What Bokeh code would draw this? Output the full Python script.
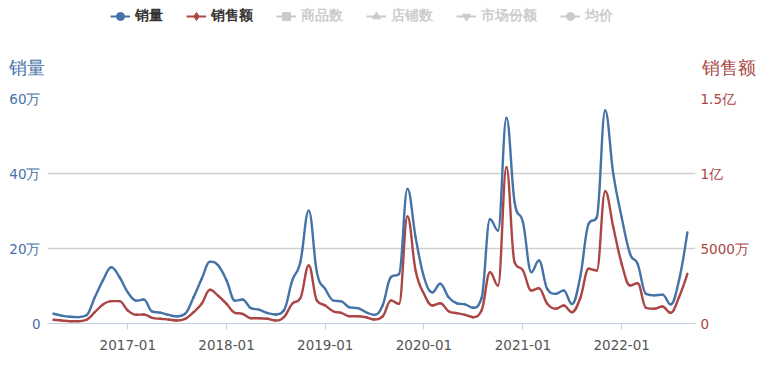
import pandas as pd
from bokeh.plotting import figure
from bokeh.layouts import column
from bokeh.models import (Range1d, LinearAxis, FixedTicker, DatetimeTickFormatter,
                          Legend, LegendItem, ColumnDataSource)
from bokeh.embed import file_html
from bokeh.resources import INLINE

# ---------------- data ----------------
start_month = "2016-04"
# 销量 (unit: 万)
sales_volume_wan = [2.6, 2.1, 1.8, 1.7, 2.2, 7.0, 11.5, 15.0, 12.4, 8.3, 6.1, 6.4,
                    3.2, 2.9, 2.3, 1.9, 2.6, 7.0, 11.9, 16.5, 15.5, 11.5, 6.1, 6.4,
                    4.1, 3.7, 2.8, 2.4, 3.5, 11.5, 16.4, 30.1, 13.7, 9.2, 6.1, 5.9,
                    4.3, 4.1, 3.0, 2.3, 4.8, 12.4, 13.2, 35.9, 23.0, 12.4, 8.3, 10.6,
                    7.0, 5.4, 5.1, 4.2, 6.8, 27.8, 24.8, 54.8, 32.4, 27.0, 13.7, 16.8,
                    9.2, 7.9, 8.8, 5.2, 12.5, 26.6, 28.3, 56.8, 39.9, 28.3, 18.6, 15.9,
                    7.9, 7.5, 7.7, 5.1, 11.5, 24.3]
# 销售额 (unit: 万元)
sales_amount_wan = [250, 200, 155, 155, 245, 755, 1270, 1490, 1490, 870, 580, 600,
                    380, 313, 267, 200, 313, 755, 1313, 2247, 1850, 1313, 713, 647,
                    353, 353, 313, 200, 420, 1313, 1687, 3867, 1533, 1200, 800, 713,
                    487, 487, 420, 267, 467, 1533, 1313, 7133, 3533, 1980, 1200, 1353,
                    820, 687, 580, 420, 867, 3420, 2533, 10420, 4087, 3533, 2200, 2353,
                    1313, 980, 1200, 753, 1700, 3647, 3533, 8820, 6420, 3980, 2533, 2687,
                    1047, 980, 1133, 713, 1753, 3313]

left_ticks = [0, 20, 40, 60]
left_tick_labels = ["0", "20万", "40万", "60万"]
right_ticks = [0, 5000, 10000, 15000]
right_tick_labels = ["0", "5000万", "1亿", "1.5亿"]
x_tick_dates = ["2017-01-01", "2018-01-01", "2019-01-01", "2020-01-01", "2021-01-01", "2022-01-01"]

legend_names = ["销量", "销售额", "商品数", "店铺数", "市场份额", "均价"]
legend_markers = ["circle", "diamond", "square", "triangle", "inverted_triangle", "circle"]
legend_active = [True, True, False, False, False, False]
left_title = "销量"
right_title = "销售额"

BLUE = "#4572A7"
RED = "#AA4643"
FONT = "DejaVu Sans"

W = 760
BL, BR = 47, 65          # left / right borders (frame spans 47..695)
HH = 88                  # header height
MT, FH, MB = 10, 225, 43  # main: top border, frame height, bottom border


def ms(d):
    return (pd.Timestamp(d) - pd.Timestamp("1970-01-01")) // pd.Timedelta("1ms")


dates = pd.date_range(start_month, periods=len(sales_volume_wan), freq="MS")
xs = [float(ms(d)) for d in dates]


def spline_segments(xv, yv, smoothing=1.5):
    """Highcharts-like spline control points -> bezier segments."""
    n = len(xv)
    lc = [None] * n
    rc = [None] * n
    for i in range(n):
        x, y = xv[i], yv[i]
        if i == 0 or i == n - 1:
            lc[i] = (x, y)
            rc[i] = (x, y)
            continue
        lx, ly = xv[i - 1], yv[i - 1]
        nx, ny = xv[i + 1], yv[i + 1]
        d = smoothing + 1
        lcx = (smoothing * x + lx) / d
        lcy = (smoothing * y + ly) / d
        rcx = (smoothing * x + nx) / d
        rcy = (smoothing * y + ny) / d
        corr = 0.0
        if rcx != lcx:
            corr = ((rcy - lcy) * (rcx - x)) / (rcx - lcx) + y - rcy
        lcy += corr
        rcy += corr
        if lcy > ly and lcy > y:
            lcy = max(ly, y)
            rcy = 2 * y - lcy
        elif lcy < ly and lcy < y:
            lcy = min(ly, y)
            rcy = 2 * y - lcy
        if rcy > ny and rcy > y:
            rcy = max(ny, y)
            lcy = 2 * y - rcy
        elif rcy < ny and rcy < y:
            rcy = min(ny, y)
            lcy = 2 * y - rcy
        lc[i] = (lcx, lcy)
        rc[i] = (rcx, rcy)
    data = dict(x0=[], y0=[], x1=[], y1=[], cx0=[], cy0=[], cx1=[], cy1=[])
    for i in range(1, n):
        data["x0"].append(xv[i - 1]); data["y0"].append(yv[i - 1])
        data["x1"].append(xv[i]); data["y1"].append(yv[i])
        data["cx0"].append(rc[i - 1][0]); data["cy0"].append(rc[i - 1][1])
        data["cx1"].append(lc[i][0]); data["cy1"].append(lc[i][1])
    return ColumnDataSource(data)


def plain_axis(ax, ticks, labels, color, size, standoff):
    ax.ticker = FixedTicker(ticks=ticks)
    ax.major_label_overrides = dict(zip(ticks, labels))
    ax.axis_line_color = None
    ax.major_tick_line_color = None
    ax.major_tick_out = 0
    ax.major_tick_in = 0
    ax.minor_tick_line_color = None
    ax.minor_tick_out = 0
    ax.major_label_text_color = color
    ax.major_label_text_font = FONT
    ax.major_label_text_font_size = size
    ax.major_label_standoff = standoff


# ---------------- header (legend + axis titles) ----------------
header = figure(width=W, height=HH, output_backend="svg", toolbar_location=None,
                x_range=Range1d(BL, W - BR), y_range=Range1d(HH, 0),
                x_axis_location=None, y_axis_location="left",
                min_border_left=BL, min_border_right=BR, min_border_top=0, min_border_bottom=0)
header.outline_line_color = None
header.grid.visible = False
title_y = [67]
plain_axis(header.yaxis[0], title_y, [left_title], BLUE, "17.5px", 3)
hr = LinearAxis()
plain_axis(hr, title_y, [right_title], RED, "17.5px", 6)
header.add_layout(hr, "right")

legend_colors = [BLUE, RED, "#333333", "#333333", "#333333", "#333333"]
items = []
for name, color, marker, active in zip(legend_names, legend_colors, legend_markers, legend_active):
    # off-frame point so the legend glyphs get drawn; nothing visible in the frame
    r1 = header.line(x=[-500, -400], y=[-500, -500], line_color=color, line_width=2)
    r2 = header.scatter(x=[-500], y=[-500], marker=marker, size=8,
                        fill_color=color, line_color=color)
    if not active:
        r1.visible = False
        r2.visible = False
    items.append(LegendItem(label=name, renderers=[r1, r2]))

legend = Legend(items=items, orientation="horizontal", location=(63, 61),
                click_policy="hide", glyph_width=20, glyph_height=22, label_height=22,
                label_width=10, label_standoff=5, spacing=23, padding=0, margin=0,
                border_line_color=None, background_fill_alpha=0,
                label_text_font=FONT, label_text_font_size="13.5px",
                label_text_font_style="bold", label_text_color="#333333",
                inactive_fill_color="white", inactive_fill_alpha=0.75)
header.add_layout(legend, "center")

# ---------------- main chart ----------------
p = figure(width=W, height=MT + FH + MB, x_axis_type="datetime", output_backend="svg",
           toolbar_location=None,
           x_range=Range1d(ms("2016-03-10"), ms("2022-10-01")),
           y_range=Range1d(0, 60),
           min_border_left=BL, min_border_right=BR, min_border_top=MT, min_border_bottom=MB)
p.outline_line_color = None
p.background_fill_color = "white"
p.border_fill_color = "white"
p.extra_y_ranges = {"amt": Range1d(0, 15000)}

xa = p.xaxis[0]
xa.ticker = FixedTicker(ticks=[float(ms(d)) for d in x_tick_dates])
fmt = "%Y-%m"
xa.formatter = DatetimeTickFormatter(years=fmt, months=fmt, days=fmt, hours=fmt,
                                     minutes=fmt, seconds=fmt, milliseconds=fmt,
                                     microseconds=fmt, hourmin=fmt, minsec=fmt)
xa.axis_line_color = "#C0D0E0"
xa.axis_line_width = 1.2
xa.major_tick_line_color = "#C0D0E0"
xa.major_tick_out = 6
xa.major_tick_in = 0
xa.minor_tick_line_color = None
xa.major_label_text_color = "#555555"
xa.major_label_text_font = FONT
xa.major_label_text_font_size = "13.5px"
xa.major_label_standoff = 10

plain_axis(p.yaxis[0], left_ticks, left_tick_labels, BLUE, "13.5px", 7)
ra = LinearAxis(y_range_name="amt")
plain_axis(ra, right_ticks, right_tick_labels, RED, "13.5px", 5)
p.add_layout(ra, "right")

p.xgrid.grid_line_color = None
p.ygrid.ticker = FixedTicker(ticks=left_ticks[1:])
p.ygrid.grid_line_color = "#d0d0d0"
p.ygrid.grid_line_width = 1.5

src_v = spline_segments(xs, sales_volume_wan)
src_a = spline_segments(xs, sales_amount_wan)
p.bezier(x0="x0", y0="y0", x1="x1", y1="y1", cx0="cx0", cy0="cy0", cx1="cx1", cy1="cy1",
         source=src_a, line_color=RED, line_width=2.4, line_cap="round", y_range_name="amt")
p.bezier(x0="x0", y0="y0", x1="x1", y1="y1", cx0="cx0", cy0="cy0", cx1="cx1", cy1="cy1",
         source=src_v, line_color=BLUE, line_width=2.4, line_cap="round")

layout = column(header, p, spacing=0)
open("out.html", "w").write(file_html(layout, INLINE))
